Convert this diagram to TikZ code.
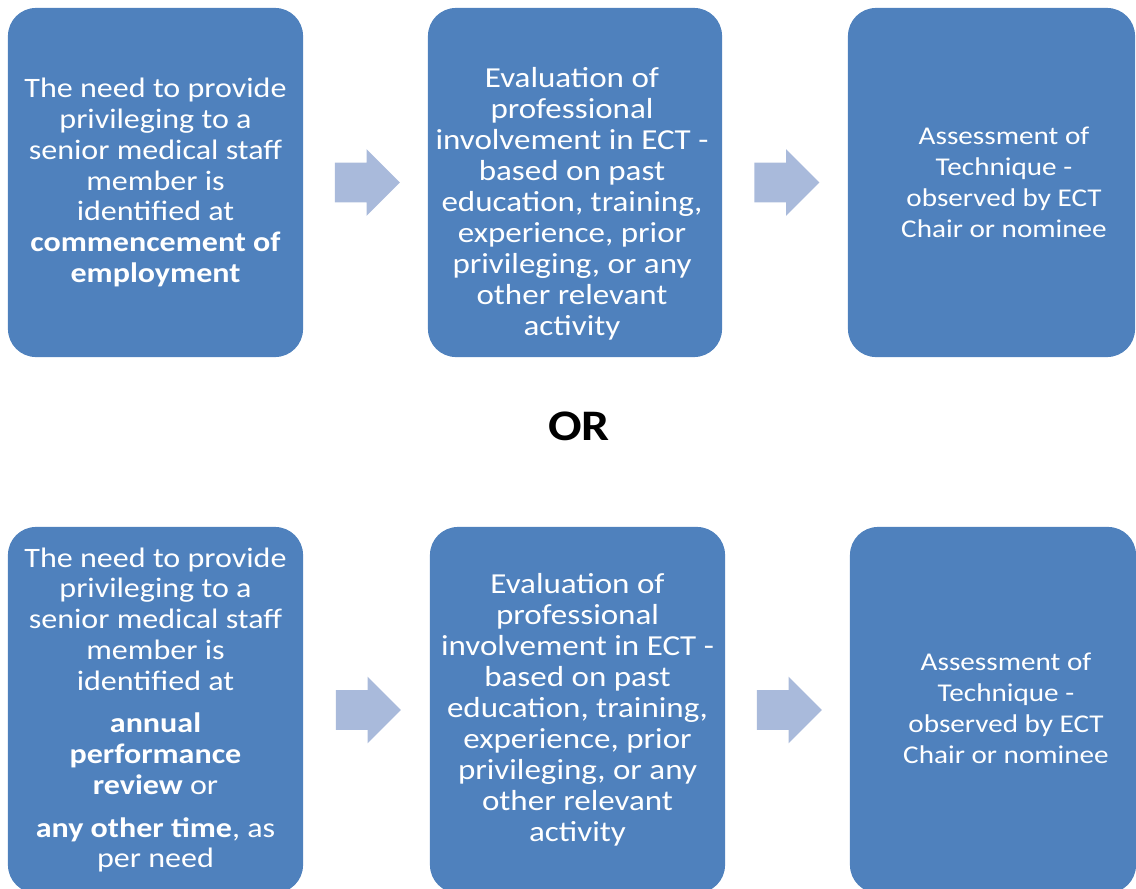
\documentclass[tikz,border=0pt]{standalone}
\usepackage{fontspec}
\setmainfont{Carlito}[FakeStretch=1.14]
\usetikzlibrary{shapes.arrows,calc}
\definecolor{boxblue}{HTML}{4F81BD}
\definecolor{arrowblue}{HTML}{A9BADB}
\tikzset{
	stepbox/.style={rectangle, rounded corners=0.7cm, fill=boxblue, text=white, align=center, inner sep=0pt, minimum height=8.725cm, font=\fontsize{20}{22}\selectfont},
	steptext/.style={text=white, align=center, inner sep=0pt, font=\fontsize{20}{22}\selectfont},
	flowarrow/.style={single arrow, fill=arrowblue, inner xsep=0pt, inner ysep=0.4875cm, single arrow head extend=0.3375cm, minimum height=1.625cm, xshift=-0.2cm}
}
\begin{document}
\begin{tikzpicture}[x=0.025cm, y=-0.025cm]
	\useasboundingbox (0,0) rectangle (1136,888);

	\node[stepbox, minimum width=7.375cm] (c1) at (155.5,182.5) {The need to provide\\privileging to a\\senior medical staff\\member is\\identified at\\\textbf{commencement of}\\\textbf{employment}};
	\node[stepbox, minimum width=7.35cm] (e1) at (575,182.5) {};
	\node[steptext, font=\fontsize{20.6}{22}\selectfont] (et1) at (572,204) {Evaluation of\\professional\\involvement in ECT -\\based on past\\education, training,\\experience, prior\\privileging, or any\\other relevant\\activity};
	\node[stepbox, minimum width=7.175cm] (s1) at (991.5,182.5) {};
	\node[steptext, font=\fontsize{18.2}{22}\selectfont] (st1) at (1004,182.5) {Assessment of\\Technique -\\observed by ECT\\Chair or nominee};

	\node[font=\bfseries\fontsize{31}{40}\selectfont] (or) at (579,426) {OR};

	\node[stepbox, minimum width=7.375cm, minimum height=9.15cm] (c2) at (155.5,710) {The need to provide\\privileging to a\\senior medical staff\\member is\\identified at\\[8pt]\textbf{annual}\\\textbf{performance}\\\textbf{review} or\\[8pt]\textbf{any other time}, as\\per need};
	\node[stepbox, minimum width=7.375cm, minimum height=9.15cm, font=\fontsize{20.6}{22}\selectfont] (e2) at (577.5,710) {Evaluation of\\professional\\involvement in ECT -\\based on past\\education, training,\\experience, prior\\privileging, or any\\other relevant\\activity};
	\node[stepbox, minimum width=7.15cm, minimum height=9.15cm] (s2) at (993,710) {};
	\node[steptext, font=\fontsize{18.2}{22}\selectfont] (st2) at (1006,708) {Assessment of\\Technique -\\observed by ECT\\Chair or nominee};

	\node[flowarrow] (a1) at ($(c1.east)!0.5!(e1.west)$) {};
	\node[flowarrow] (a2) at ($(e1.east)!0.5!(s1.west)$) {};
	\node[flowarrow] (a3) at ($(c2.east)!0.5!(e2.west)$) {};
	\node[flowarrow] (a4) at ($(e2.east)!0.5!(s2.west)$) {};
\end{tikzpicture}
\end{document}
